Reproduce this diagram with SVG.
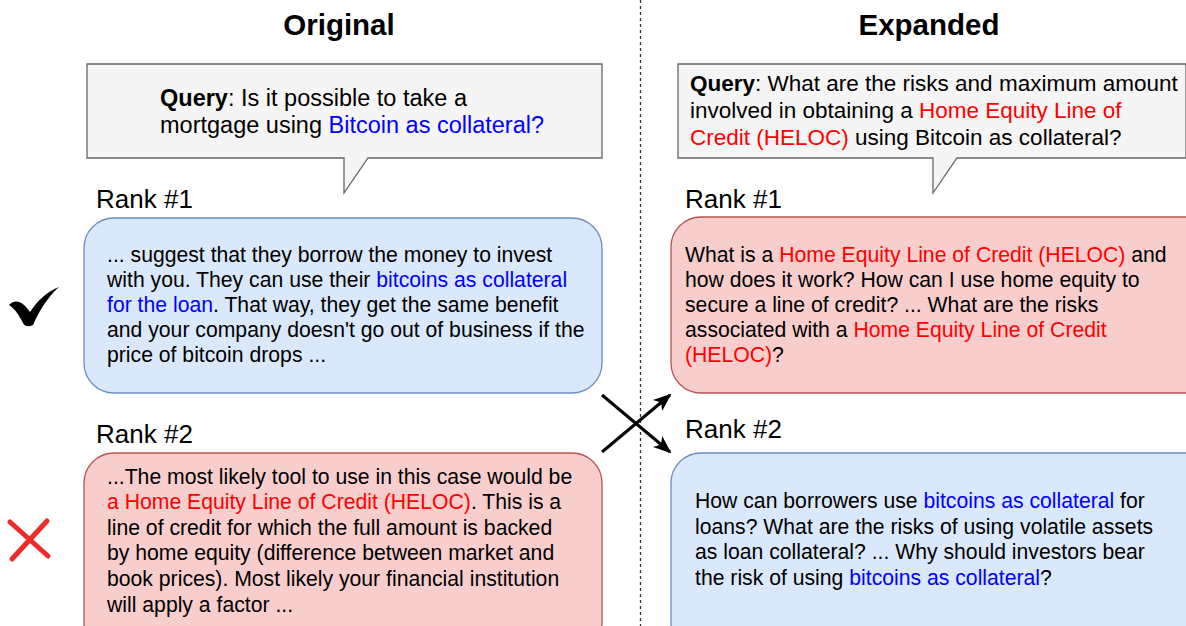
<svg xmlns="http://www.w3.org/2000/svg" width="1186" height="626" viewBox="0 0 1186 626">
<style>
text{font-family:"Liberation Sans",Arial,sans-serif;fill:#000}
.t{font-size:21.2px}
.q{font-size:22.5px}
.ql{font-size:23.5px}
.rank{font-size:26px}
.title{font-size:29.5px;font-weight:bold}
.b{fill:#0000ff}
.r{fill:#ff0000}
.blue{fill:#dae8fc;stroke:#6c8ebf;stroke-width:1.3}
.red{fill:#f8cecc;stroke:#b85450;stroke-width:1.3}
.call{fill:#f5f5f5;stroke:#666666;stroke-width:1.3}
</style>
<defs>
<marker id="ah" viewBox="0 0 10 10" refX="9" refY="5" markerWidth="18" markerHeight="18" markerUnits="userSpaceOnUse" orient="auto">
<path d="M0,1 L10,5 L0,9 L2.5,5 Z" fill="#000"/>
</marker>
</defs>
<rect width="1186" height="626" fill="#fff"/>
<line x1="640.5" y1="0" x2="640.5" y2="626" stroke="#333" stroke-width="1.3" stroke-dasharray="3,3"/>
<text class="title" x="339" y="35" text-anchor="middle">Original</text>
<text class="title" x="929" y="35" text-anchor="middle">Expanded</text>

<g id="query-original">
<path class="call" d="M87,64 H602 V158 H368 L344,193 V158 H87 Z"/>
<text class="ql" x="160" y="106"><tspan font-weight="bold">Query</tspan>: Is it possible to take a</text>
<text class="ql" x="160" y="133">mortgage using <tspan class="b">Bitcoin as collateral?</tspan></text>
</g>
<g id="query-expanded">
<path class="call" d="M678,64 H1186 V158 H957 L933,193 V158 H678 Z"/>
<text class="q" x="690" y="91"><tspan font-weight="bold">Query</tspan>: What are the risks and maximum amount</text>
<text class="q" x="690" y="118">involved in obtaining a <tspan class="r">Home Equity Line of</tspan></text>
<text class="q" x="690" y="145"><tspan class="r">Credit (HELOC)</tspan> using Bitcoin as collateral?</text>
</g>

<text class="rank" x="96" y="208">Rank #1</text>
<text class="rank" x="96" y="443">Rank #2</text>
<text class="rank" x="685" y="208">Rank #1</text>
<text class="rank" x="685" y="438">Rank #2</text>

<g id="orig-rank1">
<rect class="blue" x="84" y="218" width="518" height="175" rx="30"/>
<text class="t" x="107" y="262">... suggest that they borrow the money to invest</text>
<text class="t" x="107" y="287">with you. They can use their <tspan class="b">bitcoins as collateral</tspan></text>
<text class="t" x="107" y="312"><tspan class="b">for the loan</tspan>. That way, they get the same benefit</text>
<text class="t" x="107" y="337">and your company doesn't go out of business if the</text>
<text class="t" x="107" y="362">price of bitcoin drops ...</text>
</g>
<g id="orig-rank2">
<rect class="red" x="84" y="453" width="518" height="200" rx="30"/>
<text class="t" x="107" y="484">...The most likely tool to use in this case would be</text>
<text class="t" x="107" y="509"><tspan class="r">a Home Equity Line of Credit (HELOC)</tspan>. This is a</text>
<text class="t" x="107" y="535">line of credit for which the full amount is backed</text>
<text class="t" x="107" y="560">by home equity (difference between market and</text>
<text class="t" x="107" y="586">book prices). Most likely your financial institution</text>
<text class="t" x="107" y="612">will apply a factor ...</text>
</g>
<g id="exp-rank1">
<rect class="red" x="671" y="217" width="545" height="176" rx="30"/>
<text class="t" x="685" y="262">What is a <tspan class="r">Home Equity Line of Credit (HELOC)</tspan> and</text>
<text class="t" x="685" y="287">how does it work? How can I use home equity to</text>
<text class="t" x="685" y="312">secure a line of credit? ... What are the risks</text>
<text class="t" x="685" y="337">associated with a <tspan class="r">Home Equity Line of Credit</tspan></text>
<text class="t" x="685" y="362"><tspan class="r">(HELOC)</tspan>?</text>
</g>
<g id="exp-rank2">
<rect class="blue" x="671" y="453" width="545" height="200" rx="30"/>
<text class="t" x="695" y="508">How can borrowers use <tspan class="b">bitcoins as collateral</tspan> for</text>
<text class="t" x="695" y="534">loans? What are the risks of using volatile assets</text>
<text class="t" x="695" y="559">as loan collateral? ... Why should investors bear</text>
<text class="t" x="695" y="585">the risk of using <tspan class="b">bitcoins as collateral</tspan>?</text>
</g>

<g id="marks">
<path d="M9,305 C16,298 23,302 30,312 C38,300 48,291 59,287 C52,293 41,306 33,325 C29,327 25,327 23,323 C19,315 15,309 9,305 Z" fill="#000"/>
<path d="M10,522 L48,556 M47,521 L12,559" stroke="#ee2a2a" stroke-width="5" stroke-linecap="round" fill="none"/>
</g>

<g id="connectors" stroke="#000" stroke-width="3" fill="none">
<line x1="602" y1="395" x2="670" y2="452" marker-end="url(#ah)"/>
<line x1="602" y1="452" x2="670" y2="395" marker-end="url(#ah)"/>
</g>
</svg>
